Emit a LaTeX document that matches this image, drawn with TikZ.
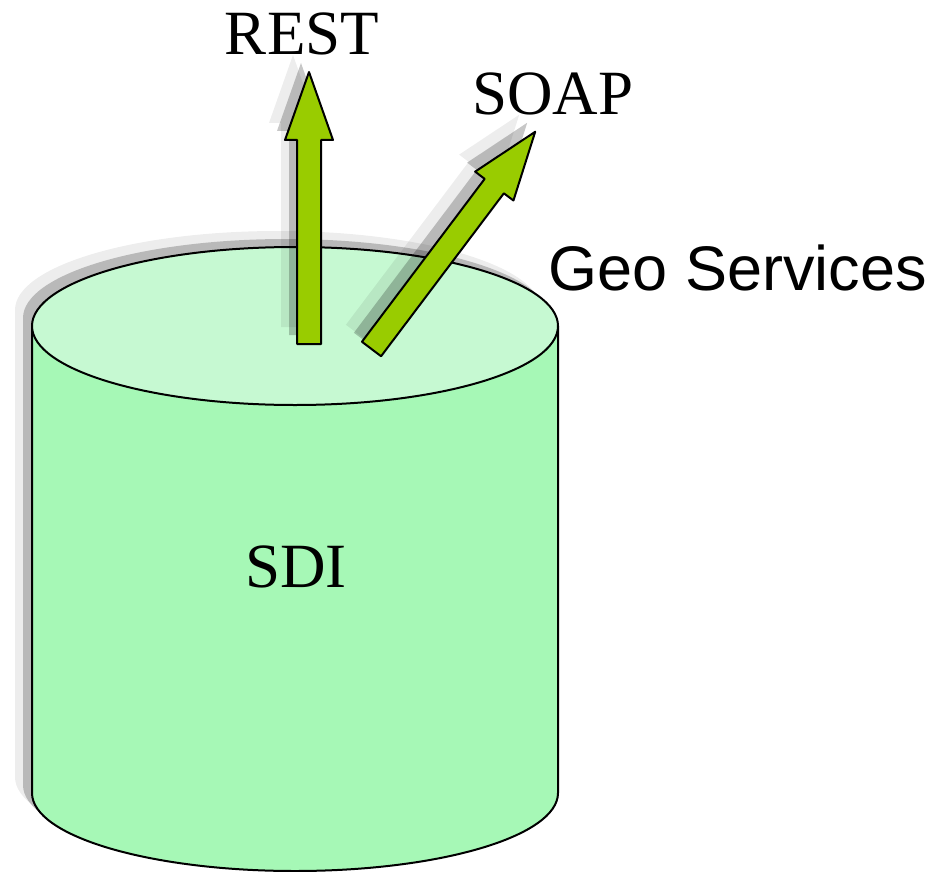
\documentclass[tikz,border=0pt]{standalone}
\usepackage{fontspec}
\setmainfont{Liberation Serif}
\newfontfamily\geosans{Liberation Sans}
\definecolor{topmint}{HTML}{C6F9D2}
\definecolor{sidemint}{HTML}{A6F8B6}
\definecolor{arrowgreen}{HTML}{99CC00}
\tikzset{
  pics/blockarrow/.style={code={
    \path[pic actions] (-12,0) -- (-12,-204) -- (-24,-204) -- (0,-272)
      -- (24,-204) -- (12,-204) -- (12,0) -- cycle;}},
  shadowfar/.style={fill=black, opacity=0.07},
  shadownear/.style={fill=black, opacity=0.22},
  outline/.style={draw=black, line width=2pt, line join=round},
  label/.style={font=\fontsize{63}{70}\selectfont, inner sep=0pt, anchor=base},
}
\begin{document}
\begin{tikzpicture}[x=1pt, y=-1pt]
\useasboundingbox (0,0) rectangle (934,872);

% cylinder shadow (two offset copies of the outline)
\foreach \dx/\dy/\st in {-17/-16/shadowfar, -9/-8/shadownear}{
  \path[\st, shift={(\dx,\dy)}]
    (32,326) arc[start angle=180, end angle=360, x radius=263, y radius=79]
    -- (558,793) arc[start angle=0, end angle=180, x radius=263, y radius=78]
    -- cycle;
}

% cylinder body
\path[outline, fill=sidemint]
  (32,326) -- (558,326) -- (558,793)
  arc[start angle=0, end angle=180, x radius=263, y radius=78] -- cycle;
\draw[outline, fill=topmint] (295,326) ellipse[x radius=263, y radius=79];

% arrow shadows
\pic[shadowfar] at (293,327) {blockarrow};
\pic[shadownear] at (301,335) {blockarrow};
\pic[shadowfar, rotate=-37] at (355.5,332) {blockarrow};
\pic[shadownear, rotate=-37] at (363.5,340) {blockarrow};

% arrows
\pic[outline, fill=arrowgreen] at (309,344) {blockarrow};
\pic[outline, fill=arrowgreen, rotate=-37] at (371.5,349) {blockarrow};

% labels
\node[label] (rest) at (302,55) {REST};
\node[label] (soap) at (553,115) {SOAP};
\node[label] (sdi) at (296,587) {SDI};
\node[label, font=\geosans\fontsize{63}{70}\selectfont] (geo) at (738,290) {Geo Services};
\end{tikzpicture}
\end{document}
